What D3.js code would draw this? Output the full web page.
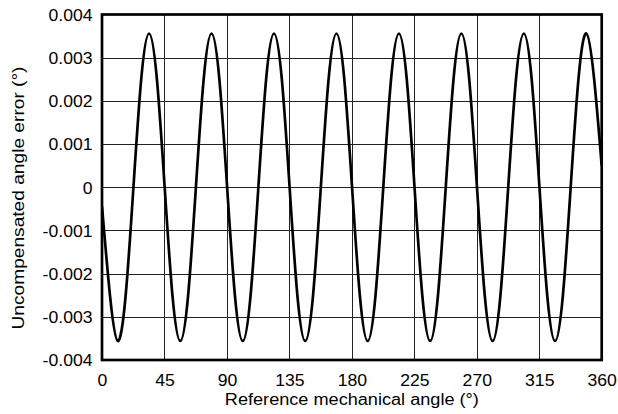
<!DOCTYPE html>
<html>
<head>
<meta charset="utf-8">
<script src="https://cdn.jsdelivr.net/npm/d3@7"></script>
<style>
  html, body { margin: 0; padding: 0; background: #fff; }
  text { font-family: "Liberation Sans", Arial, Helvetica, sans-serif; fill: #000; }
</style>
</head>
<body>
<svg id="chart" width="618" height="414"></svg>
<script>
// ---- data ----
const angles = [
  0, 5.8, 11.4, 17.0, 22.65, 28.3, 33.9, 39.5, 45.15,
  50.8, 56.4, 62.0, 67.65, 73.3, 78.9, 84.5, 90.15,
  95.8, 101.4, 107.0, 112.65, 118.3, 123.9, 129.5, 135.15,
  140.8, 146.4, 152.0, 157.65, 163.3, 168.9, 174.5, 180.15,
  185.8, 191.4, 197.0, 202.65, 208.3, 213.9, 219.5, 225.15,
  230.8, 236.4, 242.0, 247.65, 253.3, 258.9, 264.5, 270.15,
  275.8, 281.4, 287.0, 292.65, 298.3, 303.9, 309.5, 315.15,
  320.8, 326.4, 332.0, 337.65, 343.3, 348.9, 354.5, 360
];
const errors = [
  -0.00044, -0.00252, -0.00356, -0.00252, 0, 0.00252, 0.00356, 0.00252, 0,
  -0.00252, -0.00356, -0.00252, 0, 0.00252, 0.00356, 0.00252, 0,
  -0.00252, -0.00356, -0.00252, 0, 0.00252, 0.00356, 0.00252, 0,
  -0.00252, -0.00356, -0.00252, 0, 0.00252, 0.00356, 0.00252, 0,
  -0.00252, -0.00356, -0.00252, 0, 0.00252, 0.00356, 0.00252, 0,
  -0.00252, -0.00356, -0.00252, 0, 0.00252, 0.00356, 0.00252, 0,
  -0.00252, -0.00356, -0.00252, 0, 0.00252, 0.00356, 0.00252, 0,
  -0.00252, -0.00356, -0.00252, 0, 0.00252, 0.00356, 0.00252, 0.0005
];
const xTicks = [0, 45, 90, 135, 180, 225, 270, 315, 360];
const yTicks = [-0.004, -0.003, -0.002, -0.001, 0, 0.001, 0.002, 0.003, 0.004];
const yTickLabels = ["-0.004", "-0.003", "-0.002", "-0.001", "0", "0.001", "0.002", "0.003", "0.004"];
const xTitle = "Reference mechanical angle (°)";
const yTitle = "Uncompensated angle error (°)";

// ---- layout ----
const svg = d3.select("#chart");
const pL = 102, pR = 601.7, pT = 14.5, pB = 360;
const x = d3.scaleLinear().domain([0, 360]).range([pL, pR]);
const y = d3.scaleLinear().domain([-0.004, 0.004]).range([pB, pT]);
const stretch = 1.1;

// grid
const grid = svg.append("g");
grid.selectAll("line.vx").data(xTicks.slice(1, -1)).join("line")
  .attr("x1", d => Math.round(x(d)) + 0.5).attr("x2", d => Math.round(x(d)) + 0.5)
  .attr("y1", pT).attr("y2", pB)
  .attr("stroke", "#222").attr("stroke-width", 1);
grid.selectAll("line.hy").data(yTicks.slice(1, -1)).join("line")
  .attr("y1", d => Math.round(y(d)) + 0.5).attr("y2", d => Math.round(y(d)) + 0.5)
  .attr("x1", pL).attr("x2", pR)
  .attr("stroke", "#222").attr("stroke-width", 1);

// curve
svg.append("clipPath").attr("id", "clip").append("rect")
  .attr("x", pL).attr("y", pT).attr("width", pR - pL).attr("height", pB - pT);
const pts = angles.map((a, i) => [a, errors[i]]);
svg.append("path")
  .datum(pts)
  .attr("clip-path", "url(#clip)")
  .attr("fill", "none").attr("stroke", "#000").attr("stroke-width", 2.7)
  .attr("stroke-linejoin", "round")
  .attr("d", d3.line().x(d => x(d[0])).y(d => y(d[1])).curve(d3.curveNatural));

// frame
svg.append("rect")
  .attr("x", pL).attr("y", pT).attr("width", pR - pL).attr("height", pB - pT)
  .attr("fill", "none").attr("stroke", "#000").attr("stroke-width", 2.7);

// axes (labels only)
const xAxis = svg.append("g").attr("transform", `translate(0,${pB})`)
  .call(d3.axisBottom(x).tickValues(xTicks).tickSize(0).tickPadding(0).tickFormat(d3.format("d")));
xAxis.select(".domain").remove();
xAxis.selectAll("text").attr("dy", null).attr("y", 26).style("font-size", "16px");

const yAxis = svg.append("g").attr("transform", `translate(${pL},0)`)
  .call(d3.axisLeft(y).tickValues(yTicks).tickSize(0).tickPadding(0)
    .tickFormat((d, i) => yTickLabels[i]));
yAxis.select(".domain").remove();
yAxis.selectAll("text").attr("x", -9.5).attr("dy", "0.36em").style("font-size", "16px");

// horizontal stretch of tick labels
svg.selectAll(".tick text").each(function() {
  const w = this.getComputedTextLength();
  d3.select(this).attr("textLength", w * stretch).attr("lengthAdjust", "spacingAndGlyphs");
});

// titles
svg.append("text")
  .attr("x", (pL + pR) / 2).attr("y", 405)
  .attr("text-anchor", "middle").style("font-size", "16px")
  .attr("textLength", 254).attr("lengthAdjust", "spacingAndGlyphs")
  .text(xTitle);
svg.append("text")
  .attr("transform", `translate(23.5,198) rotate(-90)`)
  .attr("text-anchor", "middle").style("font-size", "16px")
  .attr("textLength", 263).attr("lengthAdjust", "spacingAndGlyphs")
  .text(yTitle);
</script>
</body>
</html>
